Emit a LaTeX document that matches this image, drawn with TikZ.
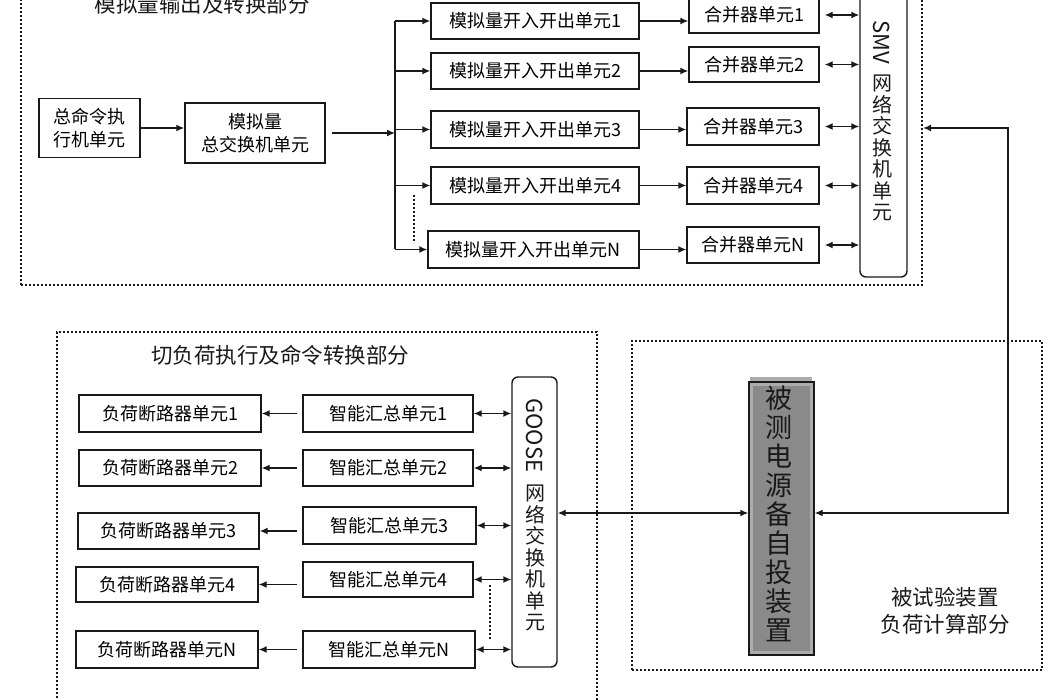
\documentclass[tikz,border=0pt]{standalone}
\usepackage{fontspec}
\setmainfont{Noto Sans CJK SC}
\usetikzlibrary{arrows.meta}
\definecolor{dutgray}{RGB}{138,138,138}
\definecolor{dutlight}{RGB}{172,172,172}
\definecolor{ink}{RGB}{25,25,25}
\newcommand\tightlines{\lineskiplimit-100pt\relax}
\newcommand\latinvert[1]{\rotatebox{-90}{\fontsize{22}{26}\selectfont #1}}
\begin{document}
\begin{tikzpicture}[x=1pt,y=-1pt,
  wh/.style 2 args={minimum width=#1pt, minimum height=#2pt},
  box/.style={draw=ink, line width=1.4pt, inner sep=0pt, font=\fontsize{18}{23}\selectfont, align=center},
  sw/.style={draw=ink, line width=1.4pt, rounded corners=6pt, inner sep=0pt},
  grp/.style={draw=ink, line width=2.2pt, dash pattern=on 2pt off 2pt},
  dots/.style={draw=ink, line width=2pt, dash pattern=on 2pt off 2pt},
  lin/.style={draw=ink, line width=1.4pt},
  tip/.tip={Latex[length=8pt,width=7pt]},
  arr/.style={lin, -tip},
  darr/.style={lin, tip-tip},
  ttl/.style={font=\fontsize{21.5}{27}\selectfont, align=center, text=ink},
  vtxt/.style={font={\fontsize{20}{21.5}\selectfont\tightlines}, align=center, inner sep=0pt, text=ink, anchor=north},
]
\useasboundingbox (0,0) rectangle (1050,700);

% ---------- group frames ----------
\node[grp, wh={901}{290}] (gtop) at (471.5,140) {};
\node[grp, wh={540}{388}] (gleft) at (327,526) {};
\node[grp, wh={410}{329}] (gright) at (837,505.5) {};

\node[ttl] (ttop) at (202,4) {模拟量输出及转换部分};
\node[ttl] (tleft) at (280,355) {切负荷执行及命令转换部分};
\node[ttl] (tright) at (945,611) {被试验装置\\负荷计算部分};

% ---------- top part ----------
\node[box, wh={101}{59}] (cmd) at (89.5,128) {总命令执\\行机单元};
\node[box, wh={140}{60}] (agx) at (255,133) {模拟量\\总交换机单元};

\node[box, wh={208}{36}] (ao1) at (535,21) {模拟量开入开出单元1};
\node[box, wh={208}{36}] (ao2) at (535,71) {模拟量开入开出单元2};
\node[box, wh={208}{37}] (ao3) at (535,129.5) {模拟量开入开出单元3};
\node[box, wh={208}{37}] (ao4) at (535,185.5) {模拟量开入开出单元4};
\node[box, wh={211}{37}] (aoN) at (533.5,249.5) {模拟量开入开出单元N};

\node[box, wh={130}{36}] (mu1) at (754,15) {合并器单元1};
\node[box, wh={130}{35}] (mu2) at (754,64.5) {合并器单元2};
\node[box, wh={132}{37}] (mu3) at (753,126.5) {合并器单元3};
\node[box, wh={132}{37}] (mu4) at (753,185.5) {合并器单元4};
\node[box, wh={132}{36}] (muN) at (753,245) {合并器单元N};

\node[sw, wh={47}{300}] (smv) at (883.5,127) {};
\node[vtxt] (smvt) at (882,20) {\latinvert{SMV}\\[49pt]网\\络\\交\\换\\机\\单\\元};

\draw[arr] (cmd.east) -- (cmd.east -| agx.west);
\coordinate (bt) at (395,21);
\coordinate (bb) at (395,249.5);
\draw[lin] (bt) -- (bb);
\draw[arr] ([xshift=6pt]agx.east) -- (agx.east -| bt);
\foreach \i in {1,2,3,4,N}{
  \draw[arr] (bt |- ao\i.west) -- (ao\i.west);
  \draw[arr] (ao\i.east) -- (ao\i.east -| mu\i.west);
  \draw[darr] ([xshift=5pt]mu\i.east) -- (mu\i.east -| smv.west);
}
\coordinate (d1a) at (414,195);
\coordinate (d1b) at (414,243);
\draw[dots] (d1a) -- (d1b);

% ---------- bottom-left part ----------
\node[box, wh={182}{37}] (lb1) at (170,413.5) {负荷断路器单元1};
\node[box, wh={182}{36}] (lb2) at (170,468) {负荷断路器单元2};
\node[box, wh={181}{36}] (lb3) at (168.5,531) {负荷断路器单元3};
\node[box, wh={182}{35}] (lb4) at (167,584.5) {负荷断路器单元4};
\node[box, wh={182}{37}] (lbN) at (167,649.5) {负荷断路器单元N};

\node[box, wh={170}{37}] (ic1) at (388,413.5) {智能汇总单元1};
\node[box, wh={170}{36}] (ic2) at (388,468) {智能汇总单元2};
\node[box, wh={173}{37}] (ic3) at (389.5,525.5) {智能汇总单元3};
\node[box, wh={170}{35}] (ic4) at (388,579.5) {智能汇总单元4};
\node[box, wh={172}{37}] (icN) at (389,649.5) {智能汇总单元N};

\node[sw, wh={45}{290}] (goose) at (534.5,522) {};
\node[vtxt] (gooset) at (535,398) {\latinvert{GOOSE}\\[81pt]网\\络\\交\\换\\机\\单\\元};

\foreach \i in {1,2,3,4,N}{
  \draw[arr] ([xshift=-5pt]lb\i.east -| ic\i.west) -- (lb\i.east);
  \draw[darr] (ic\i.east) -- (ic\i.east -| goose.west);
}
\coordinate (d2a) at (490,585);
\coordinate (d2b) at (490,640);
\draw[dots] (d2a) -- (d2b);

% ---------- device under test ----------
\fill[dutlight] (750,377) rectangle (812,382);
\node[draw=ink, line width=1.4pt, fill=dutgray, wh={65}{273}, inner sep=0pt] (dut) at (781.5,518.5) {};
\draw[dutlight, line width=2.5pt] ([shift={(3,3)}]dut.north west) rectangle ([shift={(-3,-3)}]dut.south east);
\node[font={\fontsize{27}{29}\selectfont\tightlines}, align=center, inner sep=0pt, text=ink] (dutt) at (779,514) {被\\测\\电\\源\\备\\自\\投\\装\\置};

\coordinate (gm) at (0,513);
\draw[darr] (goose.east |- gm) -- (dut.west |- gm);
\coordinate (lp1) at (1008,128);
\coordinate (lp2) at (1008,513);
\draw[darr] (gtop.east |- lp1) -- (lp1) -- (lp2) -- (dut.east |- lp2);
\end{tikzpicture}
\end{document}
